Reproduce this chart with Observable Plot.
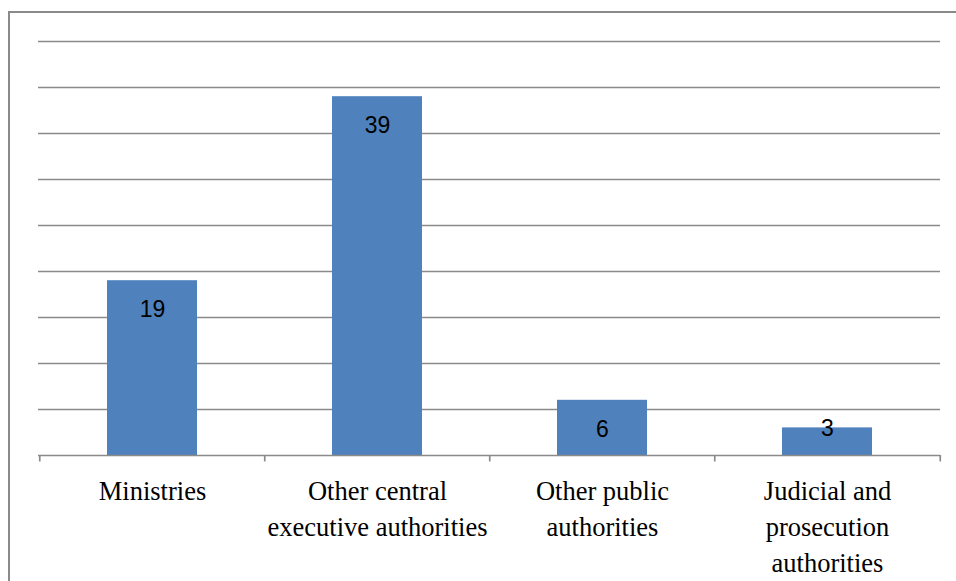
<!DOCTYPE html>
<html>
<head>
<meta charset="utf-8">
<script src="https://cdn.jsdelivr.net/npm/d3@7"></script>
<script src="https://cdn.jsdelivr.net/npm/@observablehq/plot@0.6"></script>
<style>
  html, body { margin: 0; padding: 0; background: #fff; overflow: hidden; width: 956px; height: 581px; }
  #wrap { position: relative; width: 956px; height: 581px; }
  #frame { position: absolute; left: 8px; top: 11px; width: 1000px; height: 1000px; border: 2px solid #8a8a8a; box-sizing: border-box; }
  #chart { position: absolute; left: 0; top: 0; }
</style>
</head>
<body>
<div id="wrap"><div id="frame"></div><div id="chart"></div></div>
<script>
const categories = ["Ministries", "Other central executive authorities", "Other public authorities", "Judicial and prosecution authorities"];
const tickLabels = ["Ministries", "Other central\nexecutive authorities", "Other public\nauthorities", "Judicial and\nprosecution\nauthorities"];
const values = [19, 39, 6, 3];
const gridValues = [5, 10, 15, 20, 25, 30, 35, 40, 45];

const data = categories.map((c, i) => ({category: c, label: tickLabels[i], value: values[i]}));
const W = 956, H = 581, mL = 38, mR = 16;
const step = (W - mL - mR) / categories.length;

const chart = Plot.plot({
  width: W,
  height: H,
  marginLeft: mL,
  marginRight: mR,
  marginTop: 41,
  marginBottom: 126,
  x: {domain: categories, paddingInner: 0.6, paddingOuter: 0.3, axis: null},
  y: {domain: [0, 45], axis: null},
  marks: [
    Plot.ruleY(gridValues, {stroke: "#8a8a8a", strokeWidth: 1.7}),
    Plot.barY(data, {x: "category", y: "value", fill: "#4f81bd"}),
    Plot.ruleY([0], {stroke: "#8a8a8a", strokeWidth: 1.7}),
    Plot.ruleX(categories, {x: d => d, y1: 0, y2: -0.7, dx: -step / 2, stroke: "#8a8a8a", strokeWidth: 1.7}),
    Plot.ruleX(categories.slice(-1), {x: d => d, y1: 0, y2: -0.7, dx: step / 2, stroke: "#8a8a8a", strokeWidth: 1.7}),
    Plot.text(data.filter(d => d.value >= 5), {x: "category", y: "value", text: d => String(d.value), dy: 29, fontFamily: "Liberation Sans", fontSize: 23, fill: "#000"}),
    Plot.text(data.filter(d => d.value < 5), {x: "category", y: "value", text: d => String(d.value), dy: 1, fontFamily: "Liberation Sans", fontSize: 23, fill: "#000"}),
    Plot.text(data, {x: "category", frameAnchor: "bottom", text: "label", lineAnchor: "top", dy: 19, lineHeight: 1.36, fontFamily: "Liberation Serif, Times New Roman, serif", fontSize: 26.5, fill: "#000"})
  ]
});
document.getElementById("chart").appendChild(chart);
</script>
</body>
</html>
